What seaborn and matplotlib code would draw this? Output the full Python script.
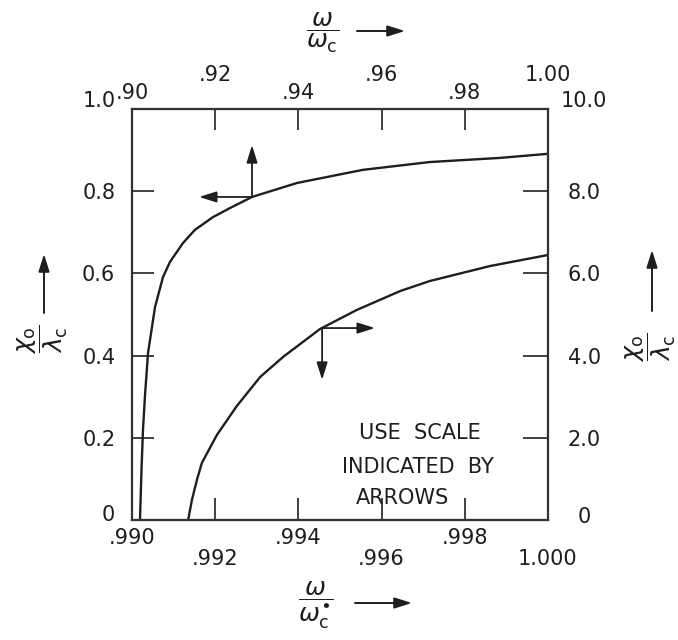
import matplotlib
matplotlib.use('Agg')
import matplotlib.pyplot as plt
from matplotlib.transforms import ScaledTranslation
import seaborn as sns
import pandas as pd

# ---- data ----
# upper curve: top axis (omega/omega_c, .90-1.00) vs left axis (0-1.0)
top_x = [0.90192, 0.90228, 0.90264, 0.90313, 0.90385, 0.90553, 0.90745,
         0.90913, 0.91226, 0.91514, 0.91947, 0.92356, 0.92885, 0.93966,
         0.95553, 0.97163, 0.98846, 1.0]
left_y = [0.0, 0.122, 0.219, 0.304, 0.406, 0.518, 0.591,
          0.628, 0.674, 0.706, 0.737, 0.759, 0.786, 0.820,
          0.852, 0.871, 0.881, 0.891]

# lower curve: bottom axis (.990-1.000) vs right axis (0-10)
bottom_x = [0.99135, 0.99144, 0.99156, 0.99168, 0.99204, 0.99252, 0.99308,
            0.99363, 0.99452, 0.99540, 0.99645, 0.99716, 0.99861, 1.0]
right_y = [0.0, 0.487, 0.973, 1.390, 2.068, 2.774, 3.479,
           3.966, 4.647, 5.109, 5.572, 5.815, 6.180, 6.448]

left_ticks = [0, 0.2, 0.4, 0.6, 0.8, 1.0]
left_labels = ['0', '0.2', '0.4', '0.6', '0.8', '1.0']
right_ticks = [0, 2, 4, 6, 8, 10]
right_labels = ['0', '2.0', '4.0', '6.0', '8.0', '10.0']
bottom_ticks = [0.990, 0.992, 0.994, 0.996, 0.998, 1.000]
bottom_labels = ['.990', '.992', '.994', '.996', '.998', '1.000']
top_ticks = [0.90, 0.92, 0.94, 0.96, 0.98, 1.00]
top_labels = ['.90', '.92', '.94', '.96', '.98', '1.00']

upper = pd.DataFrame({'x': top_x, 'y': left_y})
lower = pd.DataFrame({'x': bottom_x, 'y': right_y})

sns.set_theme(style='white')
plt.rcParams['font.family'] = ['DejaVu Sans']
plt.rcParams['mathtext.fontset'] = 'dejavusans'

ink = '#1e1e1e'
W, H = 678, 640
fig = plt.figure(figsize=(W / 100, H / 100), dpi=100)
fig.patch.set_facecolor('white')


def fp(x, y):
    return (x / W, 1 - y / H)


def nudge(label, dx_px, dy_px):
    label.set_transform(label.get_transform() +
                        ScaledTranslation(dx_px / 100, dy_px / 100, fig.dpi_scale_trans))


ax = fig.add_axes([132 / W, 1 - 520 / H, 416 / W, 411 / H])
ax_top = ax.twiny()
ax_r = ax.twinx()

sns.lineplot(data=upper, x='x', y='y', ax=ax_top, sort=False, estimator=None,
             color=ink, lw=1.7)
sns.lineplot(data=lower, x='x', y='y', ax=ax_r, sort=False, estimator=None,
             color=ink, lw=1.7)

ax.set_xlim(0.990, 1.000)
ax.set_ylim(0, 1.0)
ax_top.set_xlim(0.90, 1.00)
ax_r.set_ylim(0, 10)
for a in (ax, ax_top, ax_r):
    a.set_xlabel('')
    a.set_ylabel('')
    a.grid(False)
    for s in a.spines.values():
        s.set_color('#333333')
        s.set_linewidth(1.5)

fs = 15
tc = '#333333'
# bottom
ax.set_xticks(bottom_ticks)
ax.set_xticklabels(bottom_labels)
ax.tick_params(axis='x', direction='in', length=16, width=1.3, color=tc,
               bottom=True, top=False, labelbottom=True, labeltop=False,
               pad=6, labelsize=fs, labelcolor=ink)
for i, lab in enumerate(ax.get_xticklabels()):
    if i % 2 == 1:
        nudge(lab, 0, -21)
# left
ax.set_yticks(left_ticks)
ax.set_yticklabels(left_labels)
ax.tick_params(axis='y', direction='in', length=16, width=1.3, color=tc,
               left=True, right=False, labelleft=True, labelright=False,
               pad=12, labelsize=fs, labelcolor=ink)
# top
ax_top.set_xticks(top_ticks)
ax_top.set_xticklabels(top_labels)
ax_top.tick_params(axis='x', direction='in', length=15, width=1.3, color=tc,
                   top=True, bottom=False, labeltop=True, labelbottom=False,
                   pad=4, labelsize=fs, labelcolor=ink)
for i, lab in enumerate(ax_top.get_xticklabels()):
    if i % 2 == 1:
        nudge(lab, 0, 18)
# right
ax_r.set_yticks(right_ticks)
ax_r.set_yticklabels(right_labels)
ax_r.tick_params(axis='y', direction='in', length=18, width=1.3, color=tc,
                 right=True, left=False, labelright=True, labelleft=False,
                 pad=26, labelsize=fs, labelcolor=ink)
for lab in ax_r.get_yticklabels():
    lab.set_ha('center')

# end labels sit a little higher than their ticks in the reference
ylabs = ax.get_yticklabels()
nudge(ylabs[0], 0, 7)
nudge(ylabs[-1], 0, 10)
rlabs = ax_r.get_yticklabels()
nudge(rlabs[0], 0, 5)
nudge(rlabs[-1], 0, 10)

# scale-indicating arrows on the curves
astyle = dict(arrowstyle='-|>,head_length=0.7,head_width=0.22', mutation_scale=15,
              lw=1.3, color=ink, shrinkA=0, shrinkB=0)
ax_top.annotate('', xy=(0.92885, 0.912), xytext=(0.92885, 0.786),
                xycoords='data', arrowprops=astyle)
ax_top.annotate('', xy=(0.91611, 0.786), xytext=(0.92885, 0.786),
                xycoords='data', arrowprops=astyle)
ax_r.annotate('', xy=(0.99584, 4.67), xytext=(0.99457, 4.67),
              xycoords='data', arrowprops=astyle)
ax_r.annotate('', xy=(0.99457, 3.41), xytext=(0.99457, 4.67),
              xycoords='data', arrowprops=astyle)

# note text
tfs = 15
fig.text(*fp(420, 433), 'USE  SCALE', ha='center', va='center', fontsize=tfs, color=ink)
fig.text(*fp(418, 467), 'INDICATED  BY', ha='center', va='center', fontsize=tfs, color=ink)
fig.text(*fp(402, 498), 'ARROWS', ha='center', va='center', fontsize=tfs, color=ink)

# axis labels
lfs = 18
fig.text(*fp(323, 33), r'$\dfrac{\omega}{\omega_\mathrm{c}}$', ha='center', va='center',
         fontsize=lfs, color=ink)
fig.text(*fp(316, 605), r'$\dfrac{\omega}{\omega_\mathrm{c}^{\bullet}}$', ha='center',
         va='center', fontsize=lfs, color=ink)
fig.text(*fp(43, 339), r'$\dfrac{\chi_\mathrm{o}}{\lambda_\mathrm{c}}$', ha='center',
         va='center', rotation=90, fontsize=lfs, color=ink)
fig.text(*fp(651, 347), r'$\dfrac{\chi_\mathrm{o}}{\lambda_\mathrm{c}}$', ha='center',
         va='center', rotation=90, fontsize=lfs, color=ink)

fstyle = dict(arrowstyle='-|>,head_length=0.7,head_width=0.22', mutation_scale=15,
              lw=1.4, color=ink, shrinkA=0, shrinkB=0)
ax.annotate('', xy=fp(405, 31), xytext=fp(357, 31), xycoords='figure fraction',
            textcoords='figure fraction', arrowprops=fstyle, annotation_clip=False)
ax.annotate('', xy=fp(412, 603), xytext=fp(355, 603), xycoords='figure fraction',
            textcoords='figure fraction', arrowprops=fstyle, annotation_clip=False)
ax.annotate('', xy=fp(44, 254), xytext=fp(44, 313), xycoords='figure fraction',
            textcoords='figure fraction', arrowprops=fstyle, annotation_clip=False)
ax.annotate('', xy=fp(652, 250), xytext=fp(652, 311), xycoords='figure fraction',
            textcoords='figure fraction', arrowprops=fstyle, annotation_clip=False)

fig.savefig('out.png', dpi=100, facecolor='white')
